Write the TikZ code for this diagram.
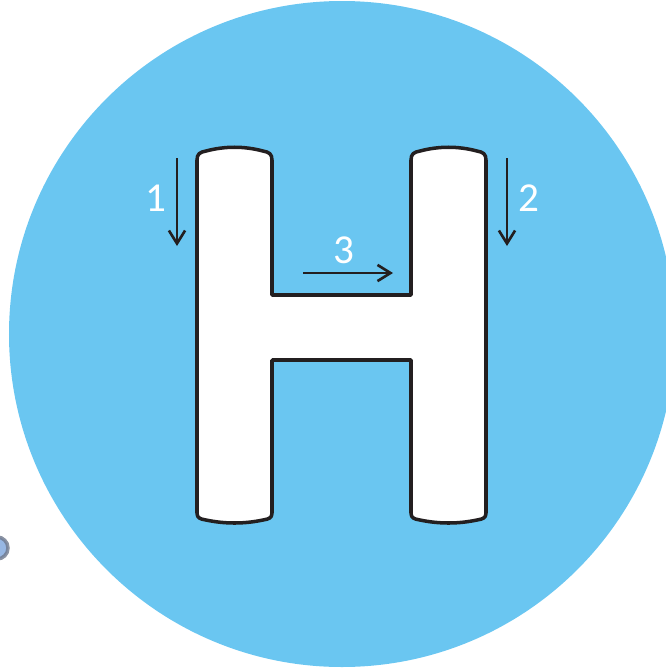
\documentclass[tikz,border=0pt]{standalone}
\usepackage{fontspec}
\setmainfont{Carlito}
\usepackage{tikz}
\usetikzlibrary{arrows.meta}

\definecolor{skyblue}{RGB}{106,198,241}
\definecolor{inkdark}{RGB}{35,31,32}
\definecolor{scrapblue}{RGB}{125,165,220}
\definecolor{scrapgray}{RGB}{110,120,140}

\begin{document}
\begin{tikzpicture}[
    x=0.01cm, y=-0.01cm,
    every node/.style={font=\fontsize{11.7}{14}\selectfont, text=white, inner sep=0pt},
    letter/.style={draw=inkdark, fill=white, line width=1pt, line join=round},
    arr/.style={-{Straight Barb[length=3.7pt, width=4.6pt]}, draw=inkdark, line width=0.75pt}
]
\useasboundingbox (0,0) rectangle (666,669);

% Background disc
\begin{scope}
\clip (0,0) rectangle (666,669);
\fill[skyblue] (342,334) circle[radius=333];
\filldraw[fill=scrapblue, draw=scrapgray, line width=1pt, opacity=0.8] (-3,548) circle[radius=11];
\end{scope}

% Letter H
\draw[letter] (197,513) -- (197,160)
    .. controls (197,154) and (200,152) .. (206,151)
    .. controls (225,146) and (244,146) .. (263,151)
    .. controls (269,152) and (272,154) .. (272,160)
    -- (272,295) -- (411,295) -- (411,160)
    .. controls (411,154) and (414,152) .. (420,151)
    .. controls (439,146) and (458,146) .. (477,151)
    .. controls (483,152) and (486,154) .. (486,160)
    -- (486,513)
    .. controls (486,518) and (483,519) .. (477,520)
    .. controls (458,524) and (439,524) .. (420,520)
    .. controls (414,519) and (411,518) .. (411,513)
    -- (411,360) -- (272,360) -- (272,513)
    .. controls (272,518) and (269,519) .. (263,520)
    .. controls (244,524) and (225,524) .. (206,520)
    .. controls (200,519) and (197,518) .. (197,513) -- cycle;

% Stroke order marks
\coordinate (s1) at (177,158);
\coordinate (e1) at (177,246);
\coordinate (s2) at (507,158);
\coordinate (e2) at (507,246);
\coordinate (s3) at (303,273);
\coordinate (e3) at (393,273);

\draw[arr] (s1) -- (e1);
\draw[arr] (s2) -- (e2);
\draw[arr] (s3) -- (e3);

\node (n1) at (156,198) {1};
\node (n2) at (529,198) {2};
\node (n3) at (344,250) {3};

\end{tikzpicture}
\end{document}
